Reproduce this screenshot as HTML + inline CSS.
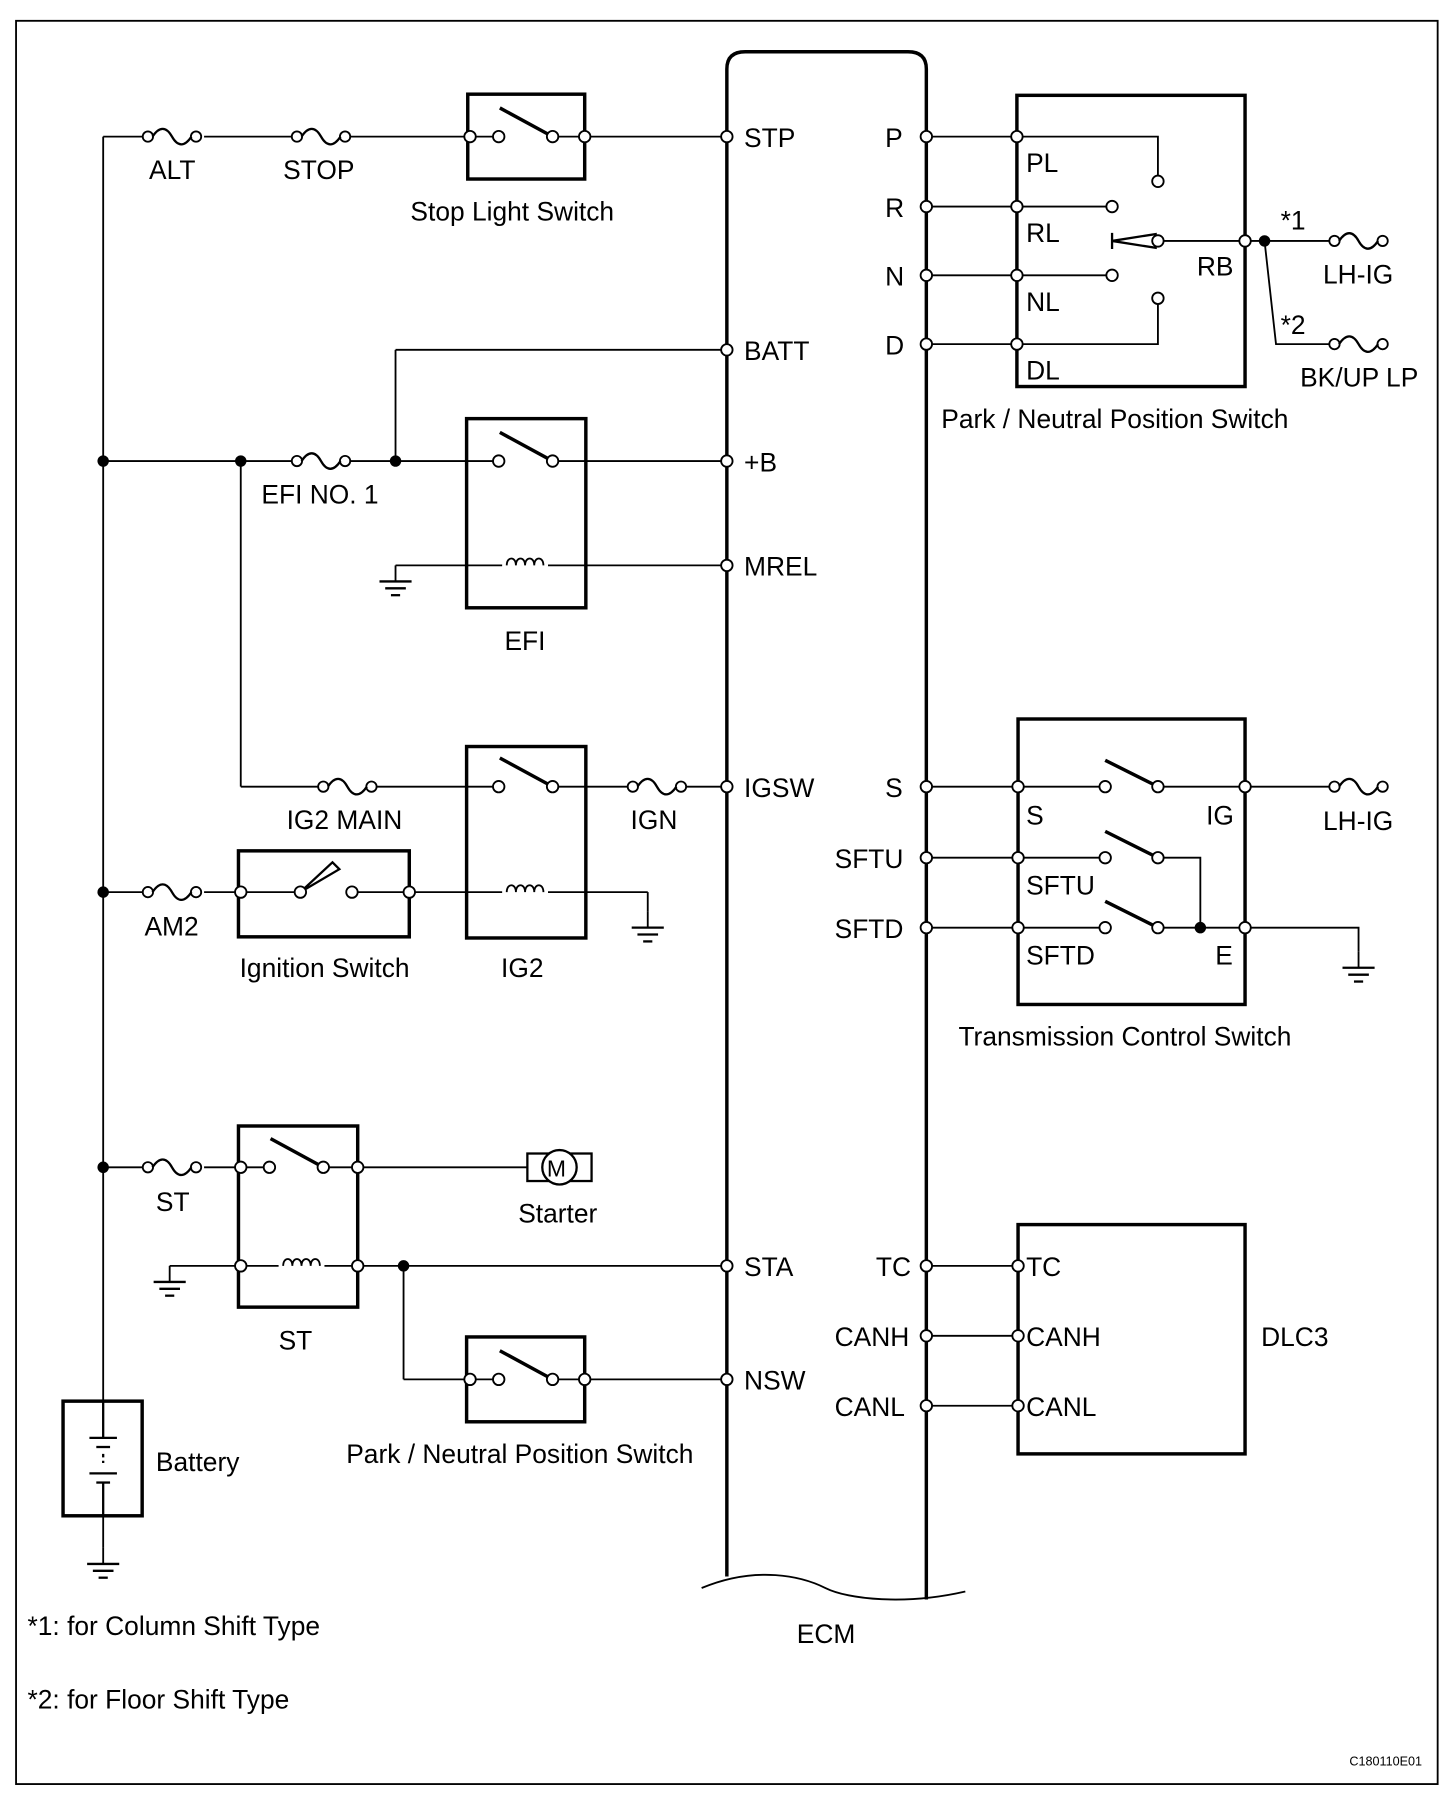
<!DOCTYPE html>
<html><head><meta charset="utf-8"><style>
html,body{margin:0;padding:0;background:#fff}
svg{display:block}
text{font-family:"Liberation Sans",Arial,sans-serif;font-size:23px;fill:#000}
</style></head><body>
<svg width="1456" height="1798" viewBox="0 0 1270 1568" xmlns="http://www.w3.org/2000/svg">
<defs>
<g id="fuse"><circle cx="4" cy="0" r="4.5" fill="#fff" stroke="#000" stroke-width="1.6"/><circle cx="46" cy="0" r="4.5" fill="#fff" stroke="#000" stroke-width="1.6"/><path d="M8,0 C14,-9 20,-9 25,0 S36,9 42,0" fill="none" stroke="#000" stroke-width="2"/></g>
<g id="gnd"><line x1="0" y1="0" x2="0" y2="14" stroke="#000" stroke-width="1.6"/><line x1="-14" y1="14" x2="14" y2="14" stroke="#000" stroke-width="2"/><line x1="-9" y1="20" x2="9" y2="20" stroke="#000" stroke-width="2"/><line x1="-4" y1="26" x2="4" y2="26" stroke="#000" stroke-width="2"/></g>
<g id="coil"><path d="M0,0 c0,-8 8,-8 8,0 c0,-8 8,-8 8,0 c0,-8 8,-8 8,0 c0,-8 8,-8 8,0" fill="none" stroke="#000" stroke-width="1.6"/></g>
</defs>
<g fill="none" stroke="#000" stroke-width="1.6">
<rect x="14" y="18" width="1240" height="1538"/>
<path d="M634,1375 L634,60 Q634,45 650,45 L792,45 Q808,45 808,60 L808,1395" stroke-width="3"/>
<path d="M612,1385 C660,1365 700,1375 720,1385 S790,1400 842,1388"/>
<line x1="90" y1="119" x2="90" y2="1222"/>
<line x1="90" y1="119" x2="125" y2="119"/><line x1="178" y1="119" x2="255" y2="119"/><line x1="305" y1="119" x2="634" y2="119"/>
<line x1="345" y1="305" x2="634" y2="305"/><line x1="345" y1="305" x2="345" y2="402"/>
<line x1="90" y1="402" x2="255" y2="402"/><line x1="305" y1="402" x2="634" y2="402"/>
<line x1="210" y1="402" x2="210" y2="686"/>
<line x1="345" y1="493" x2="634" y2="493"/>
<line x1="210" y1="686" x2="278" y2="686"/><line x1="326" y1="686" x2="548" y2="686"/><line x1="596" y1="686" x2="634" y2="686"/>
<line x1="90" y1="778" x2="125" y2="778"/><line x1="178" y1="778" x2="565" y2="778"/><line x1="565" y1="778" x2="565" y2="795"/>
<line x1="90" y1="1018" x2="125" y2="1018"/><line x1="178" y1="1018" x2="460" y2="1018"/>
<line x1="148" y1="1104" x2="634" y2="1104"/>
<line x1="352" y1="1104" x2="352" y2="1203"/><line x1="352" y1="1203" x2="634" y2="1203"/>
<line x1="90" y1="1322" x2="90" y2="1350"/>
</g>
<g fill="#fff" stroke="none">
<rect x="438" y="485" width="40" height="10"/><rect x="438" y="770" width="40" height="10"/><rect x="243" y="1096" width="40" height="10"/>
<rect x="437" y="397" width="44" height="10"/><rect x="437" y="114" width="44" height="10"/><rect x="437" y="681" width="44" height="10"/><rect x="237" y="1013" width="44" height="10"/><rect x="437" y="1198" width="44" height="10"/><rect x="264" y="773" width="42" height="10"/>
</g>
<g fill="none" stroke="#000" stroke-width="3">
<rect x="408" y="82" width="102" height="74"/>
<rect x="407" y="365" width="104" height="165"/>
<rect x="407" y="651" width="104" height="167"/>
<rect x="208" y="742" width="149" height="75"/>
<rect x="208" y="982" width="104" height="158"/>
<rect x="407" y="1166" width="103" height="74"/>
<rect x="55" y="1222" width="69" height="100"/>
<rect x="887" y="83" width="199" height="254"/>
<rect x="888" y="627" width="198" height="249"/>
<rect x="888" y="1068" width="198" height="200"/>
<line x1="436" y1="94" x2="482" y2="119"/><line x1="436" y1="377" x2="482" y2="402"/><line x1="436" y1="661" x2="482" y2="686"/><line x1="236" y1="993" x2="282" y2="1018"/><line x1="436" y1="1178" x2="482" y2="1203"/>
<line x1="964" y1="663" x2="1010" y2="686"/><line x1="964" y1="725" x2="1010" y2="748"/><line x1="964" y1="786" x2="1010" y2="809"/>
</g>
<path d="M262,778 L290,752 L296,758 Z" fill="#fff" stroke="#000" stroke-width="2"/>
<use href="#coil" x="442" y="493"/><use href="#coil" x="442" y="778"/><use href="#coil" x="247" y="1104"/>
<use href="#fuse" x="125" y="119"/><use href="#fuse" x="255" y="119"/><use href="#fuse" x="255" y="402"/><use href="#fuse" x="278" y="686"/><use href="#fuse" x="548" y="686"/><use href="#fuse" x="125" y="778"/><use href="#fuse" x="125" y="1018"/>
<use href="#gnd" x="345" y="493"/><use href="#gnd" x="565" y="795"/><use href="#gnd" x="148" y="1104"/><use href="#gnd" x="90" y="1350"/>
<rect x="460" y="1006" width="56" height="24" fill="#fff" stroke="#000" stroke-width="2"/>
<circle cx="488" cy="1018" r="15" fill="#fff" stroke="#000" stroke-width="2"/>
<text x="477" y="1026" style="font-size:20px">M</text>
<g stroke="#000" stroke-width="2"><line x1="90" y1="1222" x2="90" y2="1254"/><line x1="78" y1="1254" x2="102" y2="1254"/><line x1="84" y1="1262" x2="96" y2="1262"/><line x1="90" y1="1268" x2="90" y2="1276" stroke-dasharray="3,3"/><line x1="78" y1="1285" x2="102" y2="1285"/><line x1="84" y1="1293" x2="96" y2="1293"/><line x1="90" y1="1293" x2="90" y2="1322"/></g>
<g fill="none" stroke="#000" stroke-width="1.6">
<polyline points="808,119 1010,119 1010,158"/>
<line x1="808" y1="180" x2="970" y2="180"/><line x1="808" y1="240" x2="970" y2="240"/>
<polyline points="808,300 1010,300 1010,260"/>
<polyline points="1010,210 1160,210"/>
<polyline points="1103,210 1113,300 1160,300"/>
<line x1="808" y1="686" x2="964" y2="686"/><line x1="1010" y1="686" x2="1160" y2="686"/>
<line x1="808" y1="748" x2="964" y2="748"/><polyline points="1010,748 1047,748 1047,809"/>
<line x1="808" y1="809" x2="964" y2="809"/><polyline points="1010,809 1185,809 1185,830"/>
<line x1="808" y1="1104" x2="888" y2="1104"/><line x1="808" y1="1165" x2="888" y2="1165"/><line x1="808" y1="1226" x2="888" y2="1226"/>
</g>
<path d="M970,210 L1008,204 L1008,216 Z M970,203 L970,217" fill="#fff" stroke="#000" stroke-width="2"/>
<use href="#fuse" x="1160" y="210"/><use href="#fuse" x="1160" y="300"/><use href="#fuse" x="1160" y="686"/>
<use href="#gnd" x="1185" y="830"/>
<g fill="#fff" stroke="#000" stroke-width="1.6">
<circle cx="634" cy="119" r="5"/><circle cx="634" cy="305" r="5"/><circle cx="634" cy="402" r="5"/><circle cx="634" cy="493" r="5"/><circle cx="634" cy="686" r="5"/><circle cx="634" cy="1104" r="5"/><circle cx="634" cy="1203" r="5"/>
<circle cx="808" cy="119" r="5"/><circle cx="808" cy="180" r="5"/><circle cx="808" cy="240" r="5"/><circle cx="808" cy="300" r="5"/><circle cx="808" cy="686" r="5"/><circle cx="808" cy="748" r="5"/><circle cx="808" cy="809" r="5"/><circle cx="808" cy="1104" r="5"/><circle cx="808" cy="1165" r="5"/><circle cx="808" cy="1226" r="5"/>
<circle cx="410" cy="119" r="5"/><circle cx="435" cy="119" r="5"/><circle cx="482" cy="119" r="5"/><circle cx="510" cy="119" r="5"/>
<circle cx="435" cy="402" r="5"/><circle cx="482" cy="402" r="5"/>
<circle cx="435" cy="686" r="5"/><circle cx="482" cy="686" r="5"/>
<circle cx="210" cy="778" r="5"/><circle cx="262" cy="778" r="5"/><circle cx="307" cy="778" r="5"/><circle cx="357" cy="778" r="5"/>
<circle cx="210" cy="1018" r="5"/><circle cx="235" cy="1018" r="5"/><circle cx="282" cy="1018" r="5"/><circle cx="312" cy="1018" r="5"/>
<circle cx="210" cy="1104" r="5"/><circle cx="312" cy="1104" r="5"/>
<circle cx="410" cy="1203" r="5"/><circle cx="435" cy="1203" r="5"/><circle cx="482" cy="1203" r="5"/><circle cx="510" cy="1203" r="5"/>
<circle cx="887" cy="119" r="5"/><circle cx="887" cy="180" r="5"/><circle cx="887" cy="240" r="5"/><circle cx="887" cy="300" r="5"/>
<circle cx="1010" cy="158" r="5"/><circle cx="970" cy="180" r="5"/><circle cx="970" cy="240" r="5"/><circle cx="1010" cy="260" r="5"/><circle cx="1010" cy="210" r="5"/><circle cx="1086" cy="210" r="5"/>
<circle cx="888" cy="686" r="5"/><circle cx="888" cy="748" r="5"/><circle cx="888" cy="809" r="5"/>
<circle cx="964" cy="686" r="5"/><circle cx="1010" cy="686" r="5"/><circle cx="964" cy="748" r="5"/><circle cx="1010" cy="748" r="5"/><circle cx="964" cy="809" r="5"/><circle cx="1010" cy="809" r="5"/>
<circle cx="1086" cy="686" r="5"/><circle cx="1086" cy="809" r="5"/>
<circle cx="888" cy="1104" r="5"/><circle cx="888" cy="1165" r="5"/><circle cx="888" cy="1226" r="5"/>
</g>
<g fill="#000"><circle cx="90" cy="402" r="5"/><circle cx="210" cy="402" r="5"/><circle cx="345" cy="402" r="5"/><circle cx="90" cy="778" r="5"/><circle cx="90" cy="1018" r="5"/><circle cx="352" cy="1104" r="5"/><circle cx="1103" cy="210" r="5"/><circle cx="1047" cy="809" r="5"/></g>
<text x="130" y="156">ALT</text><text x="247" y="156">STOP</text><text x="358" y="192">Stop Light Switch</text>
<text x="649" y="128">STP</text><text x="649" y="314">BATT</text><text x="649" y="411">+B</text><text x="649" y="502">MREL</text><text x="649" y="695">IGSW</text><text x="649" y="1113">STA</text><text x="649" y="1212">NSW</text>
<text x="228" y="439">EFI NO. 1</text><text x="440" y="567">EFI</text>
<text x="250" y="723">IG2 MAIN</text><text x="550" y="723">IGN</text>
<text x="126" y="816">AM2</text><text x="209" y="852">Ignition Switch</text><text x="437" y="852">IG2</text>
<text x="136" y="1056">ST</text><text x="452" y="1066">Starter</text><text x="243" y="1177">ST</text>
<text x="302" y="1276">Park / Neutral Position Switch</text><text x="136" y="1283">Battery</text>
<text x="695" y="1433">ECM</text>
<text x="24" y="1426">*1: for Column Shift Type</text><text x="24" y="1490">*2: for Floor Shift Type</text>
<text x="1177" y="1540" style="font-size:11px">C180110E01</text>
<text x="772" y="128">P</text><text x="772" y="189">R</text><text x="772" y="249">N</text><text x="772" y="309">D</text>
<text x="895" y="150">PL</text><text x="895" y="211">RL</text><text x="895" y="271">NL</text><text x="895" y="331">DL</text><text x="1044" y="240">RB</text>
<text x="1117" y="200">*1</text><text x="1117" y="291">*2</text><text x="1154" y="247">LH-IG</text><text x="1134" y="337">BK/UP LP</text>
<text x="821" y="373">Park / Neutral Position Switch</text>
<text x="772" y="695">S</text><text x="728" y="757">SFTU</text><text x="728" y="818">SFTD</text>
<text x="895" y="719">S</text><text x="1052" y="719">IG</text><text x="895" y="780">SFTU</text><text x="895" y="841">SFTD</text><text x="1060" y="841">E</text><text x="1154" y="724">LH-IG</text>
<text x="836" y="912">Transmission Control Switch</text>
<text x="764" y="1113">TC</text><text x="728" y="1174">CANH</text><text x="728" y="1235">CANL</text>
<text x="895" y="1113">TC</text><text x="895" y="1174">CANH</text><text x="895" y="1235">CANL</text><text x="1100" y="1174">DLC3</text>
</svg>
</body></html>
